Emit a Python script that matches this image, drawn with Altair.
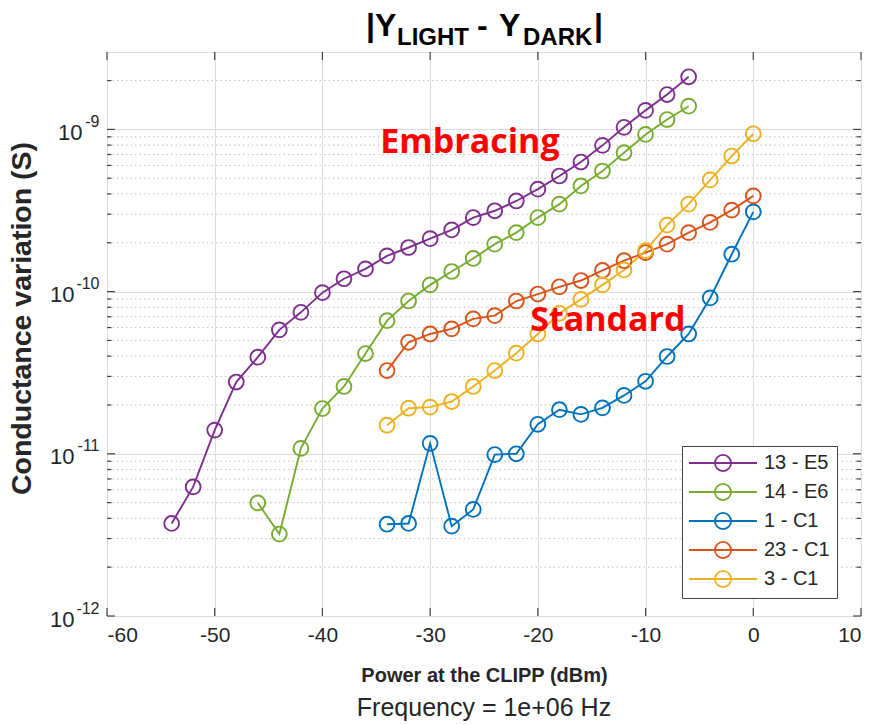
import altair as alt
import pandas as pd

# ---------------- data ----------------
SERIES = ["13 - E5", "14 - E6", "1 - C1", "23 - C1", "3 - C1"]
COLORS = ["#7E2F8E", "#77AC30", "#0072BD", "#D95319", "#EDB120"]

p_e5 = [-54, -52, -50, -48, -46, -44, -42, -40, -38, -36, -34, -32, -30,
        -28, -26, -24, -22, -20, -18, -16, -14, -12, -10, -8, -6]
g_e5 = [3.72e-12, 6.25e-12, 1.40e-11, 2.77e-11, 3.94e-11, 5.81e-11, 7.45e-11,
        9.85e-11, 1.20e-10, 1.38e-10, 1.66e-10, 1.87e-10, 2.12e-10, 2.40e-10,
        2.86e-10, 3.15e-10, 3.62e-10, 4.28e-10, 5.16e-10, 6.29e-10, 7.97e-10,
        1.03e-9, 1.31e-9, 1.64e-9, 2.11e-9]

p_e6 = [-46, -44, -42, -40, -38, -36, -34, -32, -30, -28, -26, -24, -22,
        -20, -18, -16, -14, -12, -10, -8, -6]
g_e6 = [4.98e-12, 3.20e-12, 1.08e-11, 1.90e-11, 2.60e-11, 4.15e-11, 6.62e-11,
        8.75e-11, 1.10e-10, 1.33e-10, 1.60e-10, 1.96e-10, 2.31e-10, 2.86e-10,
        3.46e-10, 4.48e-10, 5.54e-10, 7.18e-10, 9.31e-10, 1.15e-9, 1.39e-9]

p_c1 = [-34, -32, -30, -28, -26, -24, -22, -20, -18, -16, -14, -12, -10,
        -8, -6, -4, -2, 0]
g_1c1 = [3.68e-12, 3.72e-12, 1.16e-11, 3.58e-12, 4.54e-12, 9.89e-12, 1.00e-11,
         1.52e-11, 1.87e-11, 1.75e-11, 1.92e-11, 2.29e-11, 2.80e-11, 3.98e-11,
         5.48e-11, 9.14e-11, 1.70e-10, 3.10e-10]
g_23c1 = [3.26e-11, 4.87e-11, 5.48e-11, 5.89e-11, 6.79e-11, 7.11e-11, 8.75e-11,
          9.66e-11, 1.07e-10, 1.17e-10, 1.35e-10, 1.55e-10, 1.74e-10, 1.96e-10,
          2.31e-10, 2.67e-10, 3.18e-10, 3.89e-10]
g_3c1 = [1.50e-11, 1.91e-11, 1.94e-11, 2.10e-11, 2.60e-11, 3.26e-11, 4.17e-11,
         5.48e-11, 7.35e-11, 8.95e-11, 1.10e-10, 1.36e-10, 1.79e-10, 2.57e-10,
         3.46e-10, 4.88e-10, 6.85e-10, 9.40e-10]

X_TICKS = [-60, -50, -40, -30, -20, -10, 0, 10]
Y_DECADES = [1e-12, 1e-11, 1e-10, 1e-9]
Y_MINOR = [m * d for d in Y_DECADES for m in range(2, 10) if m * d < 2.99e-9]

TITLE_PARTS = ["|Y", "LIGHT", "-", "Y", "DARK", "|"]
X_TITLE = "Power at the CLIPP (dBm)"
Y_TITLE = "Conductance variation (S)"
SUBTITLE = "Frequency = 1e+06 Hz"
ANNOT_TEXT = ["Embracing", "Standard"]
ANNOT_X = [-26.3, -13.5]
ANNOT_Y = [8.2e-10, 6.6e-11]

rows = []
for name, ps, gs in [(SERIES[0], p_e5, g_e5), (SERIES[1], p_e6, g_e6),
                     (SERIES[2], p_c1, g_1c1), (SERIES[3], p_c1, g_23c1),
                     (SERIES[4], p_c1, g_3c1)]:
    for p, g in zip(ps, gs):
        rows.append({"series": name, "power": p, "g": g})
df = pd.DataFrame(rows)

FONT = "Liberation Sans"
TXT = "#262626"
TICK = "#444444"
W, H = 754, 564

xscale = alt.Scale(domain=[-60, 10], nice=False)
yscale = alt.Scale(type="log", domain=[1e-12, 3e-9], nice=False)

x_axis = alt.Axis(values=X_TICKS, labelExpr="'' + datum.value", grid=True,
                  gridColor="#dcdcdc", domain=False, ticks=False, labelFont=FONT,
                  labelFontSize=21, labelColor=TXT, labelPadding=8,
                  title=X_TITLE, titleFont=FONT, titleFontSize=20,
                  titleFontWeight="bold", titleColor=TXT, titlePadding=20)

x_enc = alt.X("power:Q", scale=xscale, axis=x_axis)

y_axis_main = alt.Axis(
    orient="left", values=Y_DECADES, labelExpr="'10'", grid=True,
    gridColor="#dcdcdc", domain=False, ticks=False, labelFont=FONT,
    labelFontSize=22, labelColor=TXT,
    labelPadding={"condition": {"test": "datum.value < 5e-10", "value": 33},
                  "value": 25},
    labelBaseline="middle", labelOffset=3,
    title=Y_TITLE, titleFont=FONT, titleFontSize=28.5, titleFontWeight="bold",
    titleColor=TXT, titlePadding=13, titleY=266)

y_axis_exp = alt.Axis(
    orient="left", values=Y_DECADES,
    labelExpr="'' + round(log(datum.value) / LN10)", grid=False, domain=False,
    ticks=False, labelFont=FONT, labelFontSize=16, labelColor=TXT,
    labelPadding=8, labelOffset=-8, labelBaseline="middle", title=None)

# minor dotted grid
minor = alt.Chart(pd.DataFrame({"v": Y_MINOR})).mark_rule(
    color="#c0c0c0", strokeDash=[1.5, 3], strokeWidth=1
).encode(y=alt.Y("v:Q", scale=yscale, axis=None))

# inward tick marks (MATLAB style)
def ytick(values, x0, x1):
    return alt.Chart(pd.DataFrame({"v": values})).mark_rule(
        color=TICK, strokeWidth=1.2
    ).encode(y=alt.Y("v:Q", scale=yscale, axis=None),
             x=alt.value(x0), x2=alt.value(x1))

def xtick(y0, y1):
    return alt.Chart(pd.DataFrame({"power": X_TICKS})).mark_rule(
        color=TICK, strokeWidth=1.2
    ).encode(x=x_enc, y=alt.value(y0), y2=alt.value(y1))

tick_layers = [
    ytick(Y_DECADES, 0, 8), ytick(Y_DECADES, W - 8, W),
    ytick(Y_MINOR, 0, 4.5), ytick(Y_MINOR, W - 4.5, W),
    xtick(H - 8, H), xtick(0, 8),
]

LEGEND_SYMBOL = ("M-4,0L4,0M0.95,0A0.95,0.95,0,1,1,-0.95,0"
                 "A0.95,0.95,0,1,1,0.95,0")

color = alt.Color("series:N", scale=alt.Scale(domain=SERIES, range=COLORS),
                  legend=alt.Legend(
                      title=None, orient="none", legendX=575, legendY=394,
                      direction="vertical",
                      symbolType=LEGEND_SYMBOL, symbolSize=289,
                      symbolStrokeWidth=1.8, symbolOffset=24,
                      rowPadding=5, labelFont=FONT, labelFontSize=20,
                      labelColor=TXT, padding=7, strokeColor="#444",
                      fillColor="white", labelOffset=31))

lines = alt.Chart(df).mark_line(
    strokeWidth=1.9,
    point=alt.OverlayMarkDef(filled=False, size=220, strokeWidth=1.9)
).encode(
    x=x_enc,
    y=alt.Y("g:Q", scale=yscale, axis=y_axis_main),
    color=color,
    order=alt.Order("power:Q"),
)

exp_layer = alt.Chart(df).mark_point(opacity=0).encode(
    x=x_enc,
    y=alt.Y("g:Q", scale=yscale, axis=y_axis_exp),
)

annot = alt.Chart(pd.DataFrame({"t": ANNOT_TEXT, "x": ANNOT_X, "y": ANNOT_Y})).mark_text(
    font="Open Sans", fontWeight="bold", fontSize=34, color="#FF0000",
    align="center", baseline="middle"
).encode(
    x=alt.X("x:Q", scale=xscale, axis=x_axis),
    y=alt.Y("y:Q", scale=yscale, axis=None),
    text="t:N",
)

# title pieces (with subscripts)
def piece(txt, xpos, ypos, size):
    return alt.Chart(pd.DataFrame({"t": [txt]})).mark_text(
        font=FONT, fontWeight="bold", fontSize=size, color="#000000",
        align="left", baseline="alphabetic"
    ).encode(x=alt.value(xpos), y=alt.value(ypos), text="t:N")

title_layers = [
    piece(TITLE_PARTS[0], 259, -16, 32),
    piece(TITLE_PARTS[1], 290, -7, 24),
    piece(TITLE_PARTS[2], 370, -16, 32),
    piece(TITLE_PARTS[3], 392, -16, 32),
    piece(TITLE_PARTS[4], 416, -7, 24),
    piece(TITLE_PARTS[5], 487, -16, 32),
]

sub = alt.Chart(pd.DataFrame({"t": [SUBTITLE]})).mark_text(
    font=FONT, fontSize=25, color=TXT, align="center", baseline="middle"
).encode(x=alt.value(W / 2), y=alt.value(656), text="t:N")

chart = alt.layer(minor, *tick_layers, lines, exp_layer, annot, sub,
                  *title_layers).resolve_axis(
    y="independent"
).properties(
    width=W, height=H,
    autosize=alt.AutoSizeParams(type="none"),
    padding={"left": 107, "top": 52, "right": 18, "bottom": 109},
).configure_view(stroke="#555555", strokeWidth=1.2).configure(background="white")

chart.save("out.html", embed_options={"renderer": "svg", "actions": False})
